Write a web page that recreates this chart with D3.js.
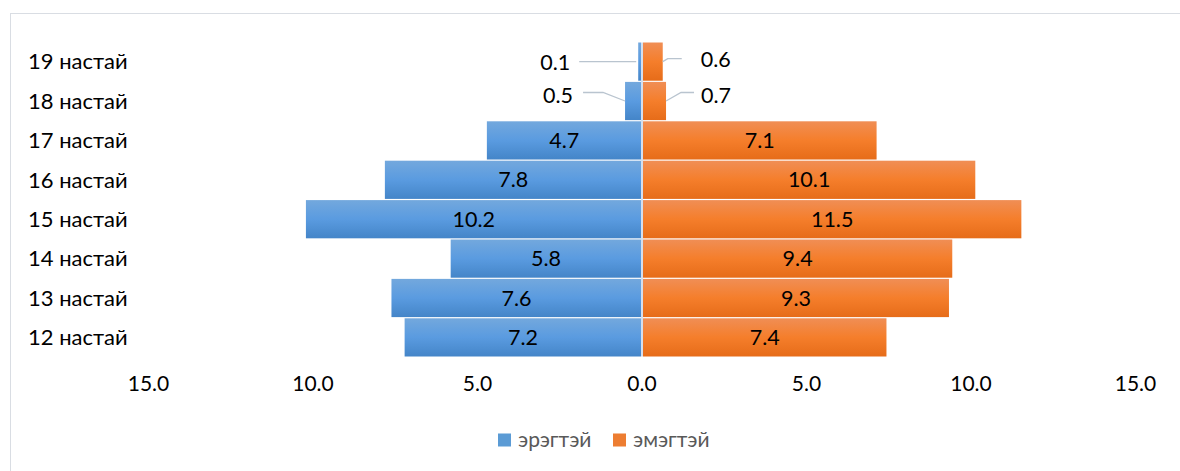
<!DOCTYPE html>
<html>
<head>
<meta charset="utf-8">
<script src="https://cdn.jsdelivr.net/npm/d3@7"></script>
<style>
  body { margin: 0; background: #fff; }
  text { font-family: Lato, "Noto Sans", sans-serif; }
</style>
</head>
<body>
<div id="canvas"></div>
<script>
// data
const ages = ["19 настай", "18 настай", "17 настай", "16 настай", "15 настай", "14 настай", "13 настай", "12 настай"];
const male = [0.1, 0.5, 4.7, 7.8, 10.2, 5.8, 7.6, 7.2];
const female = [0.6, 0.7, 7.1, 10.1, 11.5, 9.4, 9.3, 7.4];
const ticks = [-15, -10, -5, 0, 5, 10, 15];
const seriesNames = ["эрэгтэй", "эмэгтэй"];

const width = 1180, height = 471;

const svg = d3.select("#canvas").append("svg")
  .attr("width", width).attr("height", height);

// gradients like the office bars
const defs = svg.append("defs");
function grad(id, stops) {
  const g = defs.append("linearGradient").attr("id", id)
    .attr("x1", 0).attr("y1", 0).attr("x2", 0).attr("y2", 1);
  stops.forEach(s => g.append("stop").attr("offset", s[0]).attr("stop-color", s[1]));
}
grad("gBlue", [[0, "#73a8dd"], [0.5, "#5a9be0"], [1, "#4485c8"]]);
grad("gOrange", [[0, "#f08e55"], [0.5, "#f57e2b"], [1, "#e66c19"]]);

// chart border
svg.append("rect")
  .attr("x", 10.5).attr("y", 13.5)
  .attr("width", 1200).attr("height", 500)
  .attr("fill", "none").attr("stroke", "#d9dde3");

const x = d3.scaleLinear().domain([-15, 15]).range([148, 1135]);
const y = d3.scaleBand().domain(ages).range([42.5, 356.5]).paddingInner(0.03);
const x0 = x(0);

const rows = ages.map((a, i) => ({ age: a, m: male[i], f: female[i] }));

// male bars
svg.append("g").selectAll("rect").data(rows).enter().append("rect")
  .attr("x", d => x(-d.m))
  .attr("y", d => y(d.age))
  .attr("width", d => x0 - 0.5 - x(-d.m))
  .attr("height", y.bandwidth())
  .attr("fill", "url(#gBlue)");

// female bars
svg.append("g").selectAll("rect").data(rows).enter().append("rect")
  .attr("x", x0 + 1.5)
  .attr("y", d => y(d.age))
  .attr("width", d => x(d.f) - x0)
  .attr("height", y.bandwidth())
  .attr("fill", "url(#gOrange)");

// center axis line
svg.append("line")
  .attr("x1", x0 + 0.5).attr("x2", x0 + 0.5)
  .attr("y1", y.range()[0]).attr("y2", y.range()[1])
  .attr("stroke", "#c6d5e8").attr("stroke-width", 1.5);

// category labels
svg.append("g").selectAll("text").data(ages).enter().append("text")
  .attr("x", 28)
  .attr("y", d => y(d) + y.bandwidth() / 2)
  .attr("dy", "0.35em")
  .attr("font-size", 22)
  .attr("fill", "#000")
  .text(d => d);

// value axis
const axis = svg.append("g")
  .attr("transform", "translate(0,376)")
  .call(d3.axisBottom(x).tickValues(ticks).tickSize(0).tickFormat(d => Math.abs(d).toFixed(1)));
axis.select(".domain").remove();
axis.selectAll("text")
  .attr("font-size", 21)
  .attr("font-family", "Lato, 'Noto Sans', sans-serif")
  .attr("fill", "#000")
  .attr("y", 0).attr("dy", "0.71em");

// data labels
const outside = {
  m: { "19 настай": { dx: -83, dy: 1, lead: [[-2, 0], [-59, 0]] },
       "18 настай": { dx: -67, dy: -6, lead: [[0, 0], [-22, -8.5], [-42, -8.5]] } },
  f: { "19 настай": { dx: 53, dy: -2, lead: [[0, 0], [5, -3], [19, -3]] },
       "18 настай": { dx: 50, dy: -6, lead: [[0, 0], [15, -8.5], [28, -8.5]] } }
};

const lbl = svg.append("g");
rows.forEach(d => {
  const yc = y(d.age) + y.bandwidth() / 2;
  // male
  const me = x(-d.m);
  const om = outside.m[d.age];
  if (om) {
    lbl.append("path")
      .attr("d", d3.line()(om.lead.map(p => [me + p[0], yc + p[1]])))
      .attr("fill", "none").attr("stroke", "#b9c4cf").attr("stroke-width", 1.3);
    lbl.append("text").attr("x", me + om.dx).attr("y", yc + om.dy).attr("dy", "0.35em")
      .attr("text-anchor", "middle").attr("font-size", 21.5).text(d.m.toFixed(1));
  } else {
    lbl.append("text").attr("x", (me + x0) / 2).attr("y", yc).attr("dy", "0.35em")
      .attr("text-anchor", "middle").attr("font-size", 21.5).text(d.m.toFixed(1));
  }
  // female
  const fe = x(d.f) + 1.5;
  const of = outside.f[d.age];
  if (of) {
    lbl.append("path")
      .attr("d", d3.line()(of.lead.map(p => [fe + p[0], yc + p[1]])))
      .attr("fill", "none").attr("stroke", "#b9c4cf").attr("stroke-width", 1.3);
    lbl.append("text").attr("x", fe + of.dx).attr("y", yc + of.dy).attr("dy", "0.35em")
      .attr("text-anchor", "middle").attr("font-size", 21.5).text(d.f.toFixed(1));
  } else {
    lbl.append("text").attr("x", (fe + x0 + 1.5) / 2).attr("y", yc).attr("dy", "0.35em")
      .attr("text-anchor", "middle").attr("font-size", 21.5).text(d.f.toFixed(1));
  }
});

// legend
const legend = svg.append("g").attr("transform", "translate(0,440)");
const legX = [498, 613];
const legFill = ["#5b9bd5", "#ed7d31"];
seriesNames.forEach((n, i) => {
  legend.append("rect").attr("x", legX[i]).attr("y", -6.5).attr("width", 13).attr("height", 13)
    .attr("fill", legFill[i]);
  legend.append("text").attr("x", legX[i] + 20).attr("y", 0).attr("dy", "0.35em")
    .attr("font-size", 21).attr("fill", "#595959").text(n);
});
</script>
</body>
</html>
